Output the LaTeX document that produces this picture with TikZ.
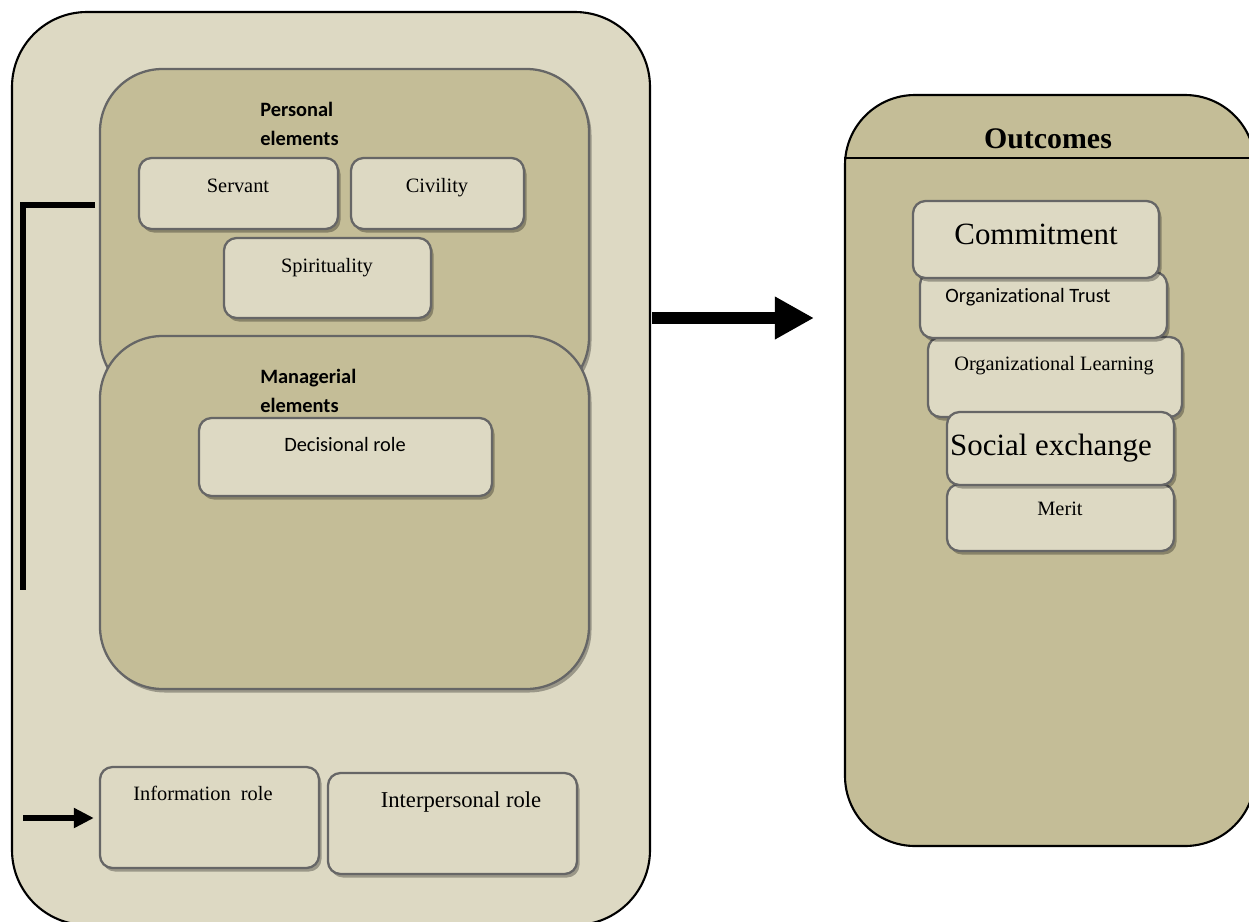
\documentclass[tikz,border=0pt]{standalone}
\usepackage{fontspec}
\setmainfont{Liberation Serif}
\newfontfamily\calibri[Ligatures=NoCommon]{Carlito}
\usetikzlibrary{fit,shadows,arrows.meta}

\definecolor{tanlight}{HTML}{DDD9C3}
\definecolor{tandark}{HTML}{C4BD97}
\definecolor{boxline}{HTML}{666666}

\tikzset{
  outerbox/.style={draw=black, line width=1.2pt, fill=tanlight, rounded corners=1.5cm, inner sep=0pt},
  groupbox/.style={draw=boxline, line width=1.3pt, fill=tandark, rounded corners=1.25cm, inner sep=0pt,
    drop shadow={shadow xshift=0.05cm, shadow yshift=-0.07cm, fill=black, opacity=0.3}},
  itembox/.style={draw=boxline, line width=1.3pt, fill=tanlight, rounded corners=0.25cm, inner sep=0pt,
    drop shadow={shadow xshift=0.05cm, shadow yshift=-0.07cm, fill=black, opacity=0.3}},
  serif/.style={inner sep=0pt, anchor=base, font=\fontsize{11.6}{14}\selectfont},
  bigserif/.style={inner sep=0pt, anchor=base, font=\fontsize{17.6}{20}\selectfont},
  sans/.style={inner sep=0pt, anchor=base, font=\calibri\fontsize{11.6}{14}\selectfont},
  heading/.style={inner sep=0pt, anchor=north west, align=left, font=\calibri\bfseries\fontsize{11.6}{16.4}\selectfont},
  bracket/.style={line width=3.4pt, miter limit=10},
  smallarrow/.style={line width=3.8pt, -{Triangle[length=0.4cm,width=0.38cm]}, shorten >=0.1cm},
  bigarrow/.style={line width=7.2pt, -{Triangle[length=0.78cm,width=0.8cm]}, shorten >=0.6cm},
}

\begin{document}
\begin{tikzpicture}[x=0.02cm,y=-0.02cm]
\clip (0,0) rectangle (1249,921);
\fill[white] (0,0) rectangle (1249,921);

% left side
\node[outerbox, fit={(12,12) (650,925)}] (outer) {};
\node[groupbox, fit={(100,69) (589,400)}] (personal) {};
\node[heading] (personal title) at (260,102) {Personal\\elements};
\node[itembox, fit={(139,158) (338,229)}] (servant) {};
\node[serif] (servant text) at (238,192) {Servant};
\node[itembox, fit={(351,158) (524,229)}] (civility) {};
\node[serif] (civility text) at (437,192) {Civility};
\node[itembox, fit={(224,238) (431,318)}] (spirit) {};
\node[serif] (spirit text) at (327,272) {Spirituality};

\node[groupbox, fit={(100,336) (589,689)}] (managerial) {};
\node[heading] (managerial title) at (260,369) {Managerial\\elements};
\node[itembox, fit={(199,418) (492,496)}] (decision) {};
\node[sans] (decision text) at (345,451) {Decisional role};

\node[itembox, fit={(100,767) (319,868)}] (info) {};
\node[serif] (info text) at (203,800) {Information\ \ role};
\node[itembox, fit={(328,773) (577,874)}] (inter) {};
\node[serif, font=\fontsize{12.9}{15}\selectfont] (inter text) at (461,807) {Interpersonal role};

\coordinate (bracket top) at (95,205);
\coordinate (bracket end) at (23,590);
\draw[bracket] (bracket top) -| (bracket end);
\coordinate (info from) at (23,818);
\draw[smallarrow] (info from) -- (info.west |- info from);

% right side
\node[outerbox, fill=tandark, rounded corners=1.4cm, fit={(845,95) (1255,846)}] (outcomes) {};
\node[bigserif, font=\fontsize{17}{20}\selectfont\bfseries] (outcomes title) at (1048,148) {Outcomes};
\coordinate (divider) at (0,158);
\draw[line width=1.2pt] (outcomes.west |- divider) -- (outcomes.east |- divider);

\node[itembox, fit={(928,337) (1182,417)}] (learning) {};
\node[serif] (learning text) at (1054,370) {Organizational Learning};
\node[itembox, fit={(920,272) (1167,338)}] (trust) {};
\node[sans] (trust text) at (1028,302) {Organizational Trust};
\node[itembox, fit={(913,201) (1159,278)}] (commit) {};
\node[bigserif] (commit text) at (1036,244) {Commitment};
\node[itembox, fit={(947,484) (1174,551)}] (merit) {};
\node[serif] (merit text) at (1060,515) {Merit};
\node[itembox, fit={(947,412) (1174,485)}] (social) {};
\node[bigserif] (social text) at (1051,455) {Social exchange};

\coordinate (arrow from) at (652,318);
\draw[bigarrow] (arrow from) -- (arrow from -| outcomes.west);
\end{tikzpicture}
\end{document}
